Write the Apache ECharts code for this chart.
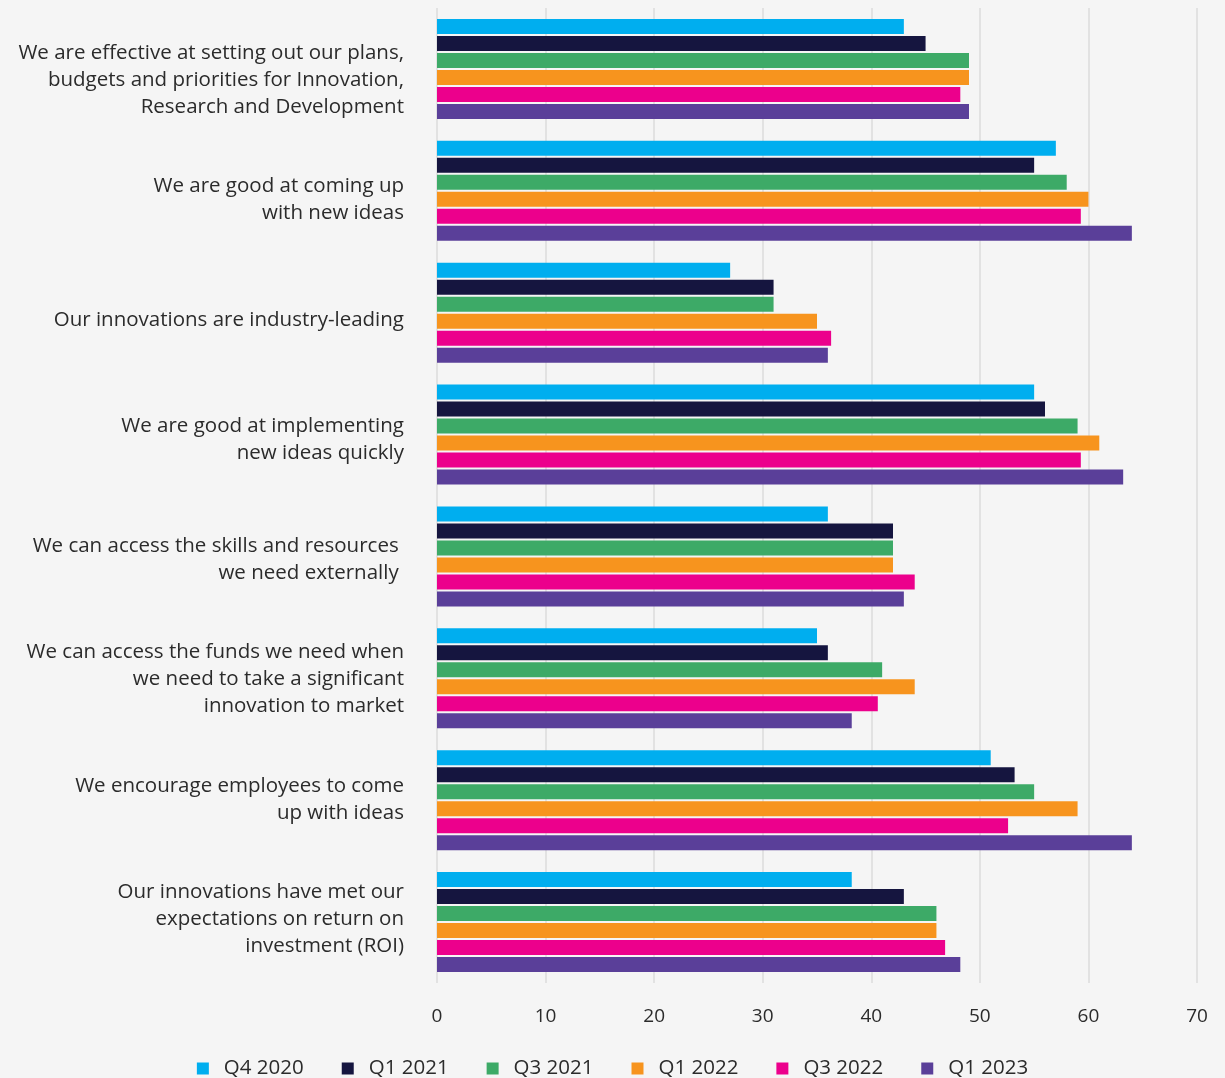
<!DOCTYPE html>
<html>
<head>
<meta charset="utf-8">
<script src="https://cdn.jsdelivr.net/npm/echarts@6/dist/echarts.min.js"></script>
<style>
  html, body { margin: 0; padding: 0; background: #f5f5f5; }
  #chart { width: 1225px; height: 1078px; }
</style>
</head>
<body>
<div id="chart"></div>
<script>
// Survey statements (top to bottom)
const statements = [
  'We are effective at setting out our plans,\nbudgets and priorities for Innovation,\nResearch and Development',
  'We are good at coming up\nwith new ideas',
  'Our innovations are industry-leading',
  'We are good at implementing\nnew ideas quickly',
  'We can access the skills and resources \nwe need externally ',
  'We can access the funds we need when\nwe need to take a significant\ninnovation to market',
  'We encourage employees to come\nup with ideas',
  'Our innovations have met our\nexpectations on return on\ninvestment (ROI)'
];

// Survey waves
const waves = ['Q4 2020', 'Q1 2021', 'Q3 2021', 'Q1 2022', 'Q3 2022', 'Q1 2023'];

// Scores per wave, one value per statement
const q4_2020 = [43, 57, 27, 55, 36, 35, 51, 38.2];
const q1_2021 = [45, 55, 31, 56, 42, 36, 53.2, 43];
const q3_2021 = [49, 58, 31, 59, 42, 41, 55, 46];
const q1_2022 = [49, 60, 35, 61, 42, 44, 59, 46];
const q3_2022 = [48.2, 59.3, 36.3, 59.3, 44, 40.6, 52.6, 46.8];
const q1_2023 = [49, 64, 36, 63.2, 43, 38.2, 64, 48.2];

const xTicks = { min: 0, max: 70, interval: 10 };

const waveValues = [q4_2020, q1_2021, q3_2021, q1_2022, q3_2022, q1_2023];
const waveColors = ['#00aeef', '#15153f', '#3daa67', '#f7941e', '#ec008c', '#5a3f99'];

const FONT = 'Open Sans';
const TEXT = '#2b2b2b';

const chart = echarts.init(document.getElementById('chart'), null, { renderer: 'canvas' });

chart.setOption({
  backgroundColor: '#f5f5f5',
  animation: false,
  textStyle: { fontFamily: FONT, color: TEXT },
  grid: [
    // bars and value axis
    { left: 437, width: 760, top: 8, height: 975 },
    // statement labels, spaced on their own band
    { left: 437, width: 760, top: 20, height: 959 }
  ],
  legend: {
    data: waves,
    top: 1053,
    left: 'center',
    icon: 'rect',
    itemWidth: 12,
    itemHeight: 12,
    itemGap: 38,
    textStyle: { fontFamily: FONT, fontSize: 20.5, color: TEXT, padding: [0, 0, 0, 10] }
  },
  xAxis: [
    {
      type: 'value',
      gridIndex: 0,
      min: xTicks.min,
      max: xTicks.max,
      interval: xTicks.interval,
      axisLine: { show: false },
      axisTick: { show: false },
      axisLabel: { fontFamily: FONT, fontSize: 19, color: TEXT, margin: 24 },
      splitLine: { show: true, lineStyle: { color: '#e2e2e2', width: 2 } }
    },
    { type: 'value', gridIndex: 1, show: false, min: 0, max: 70 }
  ],
  yAxis: [
    {
      type: 'category',
      gridIndex: 0,
      inverse: true,
      data: statements,
      axisLine: { show: false },
      axisTick: { show: false },
      axisLabel: { show: false }
    },
    {
      type: 'category',
      gridIndex: 1,
      inverse: true,
      data: statements,
      axisLine: { show: false },
      axisTick: { show: false },
      splitLine: { show: false },
      axisLabel: {
        fontFamily: FONT, fontSize: 20.5, color: TEXT, margin: 33,
        lineHeight: 27, align: 'right'
      }
    }
  ],
  series: waves.map((name, i) => ({
    name: name,
    type: 'bar',
    xAxisIndex: 0,
    yAxisIndex: 0,
    data: waveValues[i],
    itemStyle: { color: waveColors[i] },
    barGap: '13%',
    barCategoryGap: '18%'
  }))
});
</script>
</body>
</html>
